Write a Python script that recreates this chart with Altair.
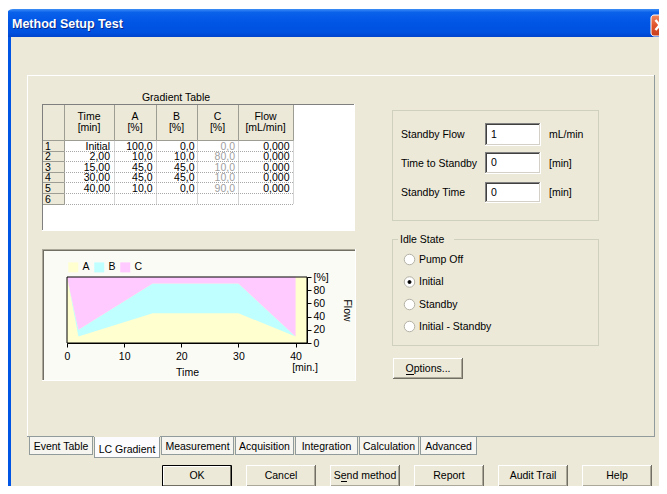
import altair as alt
import pandas as pd

# ---------------- data ----------------
time_labels = ["Initial", "2,00", "15,00", "30,00", "40,00"]
time_min = [0, 2, 15, 30, 40]
pct_a = [100.0, 10.0, 45.0, 45.0, 10.0]
pct_b = [0.0, 10.0, 45.0, 45.0, 0.0]
pct_c = [0.0, 80.0, 10.0, 10.0, 90.0]
flow_ml = [0.0, 0.0, 0.0, 0.0, 0.0]
row_numbers = ["1", "2", "3", "4", "5", "6"]
header_top = ["Time", "A", "B", "C", "Flow"]
header_bottom = ["[min]", "[%]", "[%]", "[%]", "[mL/min]"]
series = ["A", "B", "C"]
series_colors = ["#FFFFD0", "#BFFFFF", "#FFCAFF"]
x_ticks = [0, 10, 20, 30, 40]
y_ticks = [0, 20, 40, 60, 80, 100]
tab_names = ["Event Table", "LC Gradient", "Measurement", "Acquisition",
             "Integration", "Calculation", "Advanced"]
selected_tab = "LC Gradient"
button_names = ["OK", "Cancel", "Send method", "Report", "Audit Trail", "Help"]
standby_labels = ["Standby Flow", "Time to Standby", "Standby Time"]
standby_values = ["1", "0", "0"]
standby_units = ["mL/min", "[min]", "[min]"]
idle_options = ["Pump Off", "Initial", "Standby", "Initial - Standby"]
idle_selected = "Initial"

# ---------------- layout / style ----------------
FONT = "Liberation Sans"
FS = 10.5
BG = "#ECE9D8"
OX, OY = 67, 277          # plot origin in page pixels
PW, PH = 240, 66          # plot size
CW, CH = 651, 478         # canvas size
PAD = {"left": OX - 8, "top": OY - 8,
       "right": CW - (OX - 8) - PW, "bottom": CH - (OY - 8) - PH}

rects, lines, dotted, dots, texts = [], [], [], [], []


def R(x, y, x2, y2, fill, stroke="transparent"):
    rects.append(dict(x=x - OX, x2=x2 - OX, y=y - OY, y2=y2 - OY, fill=fill, stroke=stroke))


def L(x, y, x2, y2, color, w=1.0, target=None):
    (lines if target is None else target).append(
        dict(x=x - OX, x2=x2 - OX, y=y - OY, y2=y2 - OY, color=color, w=w))


def T(x, y, text, align="left", color="black", size=FS, weight="normal"):
    texts.append(dict(x=x - OX, y=y - OY, text=text, color=color, size=size,
                      align=align, weight=weight))


def bevel(x0, y0, x1, y1, light, dark):
    L(x0, y0 + 0.5, x1, y0 + 0.5, light)
    L(x0 + 0.5, y0, x0 + 0.5, y1, light)
    L(x0, y1 - 0.5, x1, y1 - 0.5, dark)
    L(x1 - 0.5, y0, x1 - 0.5, y1, dark)


# window body
R(6, 37, 700, 520, "#0055E5")
R(11, 37, 700, 520, BG)

# tab panel border
L(27, 75.5, 655, 75.5, "#FFFFFF")
L(27.5, 75, 27.5, 437, "#FFFFFF")
L(654.5, 75, 654.5, 437, "#919B9C")
L(27, 436.5, 94, 436.5, "#919B9C")
L(160, 436.5, 655, 436.5, "#919B9C")

# gradient table
T(176, 97.5, "Gradient Table", "center")
cols = [42, 64, 114, 156, 197, 238, 293]
R(42, 104, 355, 231, "#FFFFFF")
bevel(42, 104, 355, 231, "#7F7F7F", "#FFFFFF")
for i in range(6):
    R(cols[i] + 0.5, 104.5, cols[i + 1] + 0.5, 140.5, BG, "#9D9D94")
bounds = [round(140 + i * 10.6) + 0.5 for i in range(7)]
for r in range(6):
    R(42.5, bounds[r], 64.5, bounds[r + 1], BG, "#9D9D94")
    T(45, (bounds[r] + bounds[r + 1]) / 2 + 0.5, row_numbers[r])
for r in range(1, 7):
    L(64, bounds[r], 293.5, bounds[r], "#A8A8A8", target=dotted)
for c in cols[2:]:
    L(c + 0.5, 140.5, c + 0.5, bounds[6], "#A8A8A8", target=dotted)
centers = [(cols[i + 1] + cols[i + 2]) / 2 for i in range(5)]
for i in range(5):
    T(centers[i], 116.5, header_top[i], "center")
    T(centers[i], 127.5, header_bottom[i], "center")
right_x = [110, 152.5, 194.5, 235, 289.5]
for r in range(5):
    yc = (bounds[r] + bounds[r + 1]) / 2 + 0.5
    T(right_x[0], yc, time_labels[r], "right")
    T(right_x[1], yc, f"{pct_a[r]:.1f}".replace(".", ","), "right")
    T(right_x[2], yc, f"{pct_b[r]:.1f}".replace(".", ","), "right")
    T(right_x[3], yc, f"{pct_c[r]:.1f}".replace(".", ","), "right", color="#A0A0A0")
    T(right_x[4], yc, f"{flow_ml[r]:.3f}".replace(".", ","), "right")

# chart panel
R(42, 249, 356, 381, "#FBFBF6")
L(42, 249.5, 356, 249.5, "#ACA899")
L(42.5, 249, 42.5, 381, "#ACA899")
L(43, 250.5, 355, 250.5, "#716F64")
L(43.5, 250, 43.5, 380, "#716F64")
L(42, 380.5, 356, 380.5, "#FFFFFF")
L(355.5, 249, 355.5, 381, "#FFFFFF")
T(305, 368, "[min.]", "center")

# standby group
GRP = "#D0D0BF"
L(392, 110.5, 599, 110.5, GRP)
L(392, 220.5, 599, 220.5, GRP)
L(392.5, 110, 392.5, 221, GRP)
L(598.5, 110, 598.5, 221, GRP)
box_y = [(123, 146), (152, 174), (182, 203)]
lab_y = [134.5, 163.5, 192.5]
for i in range(3):
    T(401, lab_y[i], standby_labels[i])
    y0, y1 = box_y[i]
    R(485, y0, 541, y1, "#FFFFFF")
    bevel(485, y0, 541, y1, "#808080", "#FFFFFF")
    bevel(486, y0 + 1, 540, y1 - 1, "#404040", "#D4D0C8")
    T(491, (y0 + y1) / 2, standby_values[i])
    T(549, lab_y[i], standby_units[i])

# idle state group
L(392, 239.5, 398, 239.5, GRP)
L(454, 239.5, 599, 239.5, GRP)
L(392, 345.5, 599, 345.5, GRP)
L(392.5, 239, 392.5, 346, GRP)
L(598.5, 239, 598.5, 346, GRP)
T(400, 239.5, "Idle State")
radio_y = [259.5, 282, 304.5, 326.5]
for i, opt in enumerate(idle_options):
    dots.append(dict(x=409.5 - OX, y=radio_y[i] - OY, fill="#FFFFFF", stroke="#B4B2A6", size=110))
    if opt == idle_selected:
        dots.append(dict(x=409.5 - OX, y=radio_y[i] - OY, fill="#000000", stroke="#000000", size=9))
    T(419, radio_y[i], opt)

# options button
bevel(393, 358, 463, 379, "#FFFFFF", "#716F64")
L(394, 377.5, 462, 377.5, "#ACA899")
L(461.5, 359, 461.5, 378, "#ACA899")
T(428, 368.5, "Options...", "center")
L(406, 374.5, 414, 374.5, "#000000")

# tabs
tab_x = [(29, 93), (94, 160), (161, 234), (235, 294), (295, 358), (359, 419), (420, 477)]
for name, (x0, x1) in zip(tab_names, tab_x):
    if name == selected_tab:
        R(x0, 437, x1, 458, "#FCFCFE")
        L(x0 + 0.5, 437, x0 + 0.5, 458, "#919B9C")
        L(x1 - 0.5, 437, x1 - 0.5, 458, "#919B9C")
        L(x0, 457.5, x1, 457.5, "#919B9C")
        T((x0 + x1) / 2, 450, name, "center")
    else:
        R(x0, 437, x1, 455, "#F6F5F0")
        L(x0 + 0.5, 437, x0 + 0.5, 455, "#919B9C")
        L(x1 - 0.5, 437, x1 - 0.5, 455, "#919B9C")
        L(x0, 454.5, x1, 454.5, "#919B9C")
        T((x0 + x1) / 2, 446.5, name, "center")

# buttons
for i, name in enumerate(button_names):
    x0 = 162 + 84 * i
    x1 = x0 + 70
    if i == 0:
        R(x0 + 0.5, 465.5, x1 - 0.5, 486.5, BG, "#000000")
        bevel(x0 + 1, 466, x1 - 1, 486, "#FFFFFF", "#716F64")
    else:
        bevel(x0, 465, x1, 487, "#FFFFFF", "#716F64")
        L(x0 + 1, 485.5, x1 - 1, 485.5, "#ACA899")
        L(x1 - 1.5, 466, x1 - 1.5, 486, "#ACA899")
    T((x0 + x1) / 2, 476, name, "center")
L(341, 481.5, 347, 481.5, "#000000")

# title bar
T(13, 24.5, "Method Setup Test", color="#0A2A8A", size=12.5, weight="bold")
T(12, 23.5, "Method Setup Test", color="#FFFFFF", size=12.5, weight="bold")
L(655.5, 20, 664, 30, "#FFFFFF", 2.4)
L(655.5, 30, 664, 20, "#FFFFFF", 2.4)


# ---------------- layer builders ----------------
def px(field):
    return alt.X(f"{field}:Q", scale=None, axis=None)


def py(field):
    return alt.Y(f"{field}:Q", scale=None, axis=None)


def rect_layer(rows, **mk):
    return alt.Chart(pd.DataFrame(rows)).mark_rect(strokeWidth=1, **mk).encode(
        x=px("x"), x2="x2:Q", y=py("y"), y2="y2:Q",
        fill=alt.Fill("fill:N", scale=None, legend=None),
        stroke=alt.Stroke("stroke:N", scale=None, legend=None))


def rule_layer(rows, **mk):
    return alt.Chart(pd.DataFrame(rows)).mark_rule(strokeCap="butt", **mk).encode(
        x=px("x"), x2="x2:Q", y=py("y"), y2="y2:Q",
        color=alt.Color("color:N", scale=None, legend=None),
        strokeWidth=alt.StrokeWidth("w:Q", scale=None, legend=None))


def text_layers(rows):
    df = pd.DataFrame(rows)
    out = []
    for (align, weight), g in df.groupby(["align", "weight"], sort=False):
        out.append(alt.Chart(g).mark_text(align=align, baseline="middle", font=FONT,
                                          fontWeight=weight).encode(
            x=px("x"), y=py("y"), text="text:N",
            color=alt.Color("color:N", scale=None, legend=None),
            size=alt.Size("size:Q", scale=None, legend=None)))
    return out


title_bar = alt.Chart(pd.DataFrame([dict(x=6 - OX, x2=700 - OX, y=9 - OY, y2=37 - OY)])).mark_rect(
    cornerRadiusTopLeft=7, cornerRadiusTopRight=7,
    fill={"gradient": "linear", "x1": 0, "y1": 0, "x2": 0, "y2": 1,
          "stops": [{"offset": 0, "color": "#3D8EF5"}, {"offset": 0.12, "color": "#0A61EA"},
                    {"offset": 0.5, "color": "#0055E5"}, {"offset": 0.85, "color": "#0051DF"},
                    {"offset": 1, "color": "#0044CC"}]}).encode(
    x=px("x"), x2="x2:Q", y=py("y"), y2="y2:Q")

close_btn = alt.Chart(pd.DataFrame([dict(x=651 - OX, x2=673 - OX, y=15 - OY, y2=36 - OY)])).mark_rect(
    cornerRadius=3, stroke="#FFFFFF", strokeWidth=1,
    fill={"gradient": "linear", "x1": 0, "y1": 0, "x2": 0, "y2": 1,
          "stops": [{"offset": 0, "color": "#F08A62"}, {"offset": 0.5, "color": "#E0522A"},
                    {"offset": 1, "color": "#C8401E"}]}).encode(
    x=px("x"), x2="x2:Q", y=py("y"), y2="y2:Q")

radio_layer = alt.Chart(pd.DataFrame(dots)).mark_point(shape="circle", filled=True, opacity=1,
                                                     strokeWidth=1).encode(
    x=px("x"), y=py("y"),
    fill=alt.Fill("fill:N", scale=None, legend=None),
    stroke=alt.Stroke("stroke:N", scale=None, legend=None),
    size=alt.Size("size:Q", scale=None, legend=None))

# ---------------- the gradient chart ----------------
long_rows = []
for k, (name, vals) in enumerate(zip(series, [pct_a, pct_b, pct_c])):
    for t, v in zip(time_min, vals):
        long_rows.append(dict(t=t, series=name, pct=v, ord=k))
long_df = pd.DataFrame(long_rows)

xs = alt.Scale(domain=[0, 42], nice=False, zero=False)
ys = alt.Scale(domain=[0, 100], nice=False)
frame_df = pd.DataFrame([dict(x0=0, x1=42, y0=0, y1=100)])

plot_bg = alt.Chart(frame_df).mark_rect(fill=series_colors[0]).encode(
    x=alt.X("x0:Q", scale=xs, axis=None), x2="x1:Q",
    y=alt.Y("y0:Q", scale=ys, axis=None), y2="y1:Q")

areas = alt.Chart(long_df).mark_area(interpolate="linear", opacity=1).encode(
    x=alt.X("t:Q", scale=xs, axis=alt.Axis(
        orient="bottom", values=x_ticks, title="Time", grid=False, labelFlush=False, zindex=2,
        tickSize=4, labelPadding=4, titlePadding=6, domainColor="#000000", tickColor="#000000",
        labelColor="#000000", titleColor="#000000", labelFont=FONT, titleFont=FONT,
        labelFontSize=FS, titleFontSize=FS, titleFontWeight="normal")),
    y=alt.Y("pct:Q", stack="zero", scale=ys, axis=alt.Axis(
        orient="right", values=y_ticks, title="Flow", grid=False, labelFlush=False, zindex=2,
        labelExpr="datum.value == 100 ? '[%]' : datum.label",
        tickSize=4, labelPadding=2, titlePadding=13, domainColor="#000000", tickColor="#000000",
        labelColor="#000000", titleColor="#000000", labelFont=FONT, titleFont=FONT,
        labelFontSize=FS, titleFontSize=FS, titleFontWeight="normal")),
    color=alt.Color("series:N", scale=alt.Scale(domain=series, range=series_colors),
                    legend=alt.Legend(orient="none", legendX=1, legendY=-15,
                                      direction="horizontal", title=None, symbolType="square",
                                      symbolSize=100, symbolStrokeWidth=0, symbolOpacity=1,
                                      labelFont=FONT, labelFontSize=FS, labelColor="#000000",
                                      labelOffset=4, columnPadding=4, padding=0)),
    order=alt.Order("ord:Q"))

plot_frame = alt.Chart(frame_df).mark_rect(fillOpacity=0, stroke="#000000", strokeWidth=1).encode(
    x=alt.X("x0:Q", scale=xs, axis=None), x2="x1:Q",
    y=alt.Y("y0:Q", scale=ys, axis=None), y2="y1:Q")

layers = [rect_layer(rects), title_bar, close_btn,
          rule_layer(lines), rule_layer(dotted, strokeDash=[1, 1]),
          radio_layer] + text_layers(texts) + [plot_bg, areas, plot_frame]

chart = alt.layer(*layers).resolve_scale(
    x="independent", y="independent", color="independent", fill="independent",
    stroke="independent", size="independent", strokeWidth="independent"
).resolve_axis(x="independent", y="independent").properties(
    width=PW, height=PH, padding=PAD,
    autosize=alt.AutoSizeParams(type="none"),
    background="#FFFFFF"
).configure_view(stroke=None)

chart.save("out.html", embed_options={"renderer": "svg", "actions": False})
